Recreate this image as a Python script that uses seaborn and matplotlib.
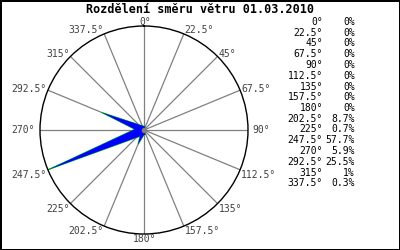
import numpy as np
import matplotlib
matplotlib.use("Agg")
import matplotlib.pyplot as plt
import seaborn as sns

sns.set_theme(style="white")
plt.rcParams['font.family'] = ['DejaVu Sans Mono', 'DejaVu Sans']

title = "Rozdělení směru větru 01.03.2010"
directions = [0, 22.5, 45, 67.5, 90, 112.5, 135, 157.5, 180,
              202.5, 225, 247.5, 270, 292.5, 315, 337.5]
percent = [0, 0, 0, 0, 0, 0, 0, 0, 0, 8.7, 0.7, 57.7, 5.9, 25.5, 1, 0.3]

W, H = 400, 250
fig = plt.figure(figsize=(4, 2.5), dpi=100, facecolor="white",
                 edgecolor="black", linewidth=2)

ax = fig.add_axes([40 / W, 16 / H, 208 / W, 208 / H], projection="polar")
ax.set_theta_zero_location("N")
ax.set_theta_direction(-1)
rmax = max(percent)
ax.set_ylim(0, rmax)
ax.grid(False)
ax.set_xticks([])
ax.set_yticks([])
ax.set_facecolor("white")
ax.spines["polar"].set_color("black")
ax.spines["polar"].set_linewidth(1.0)

# spokes
for d in directions:
    t = np.deg2rad(d)
    ax.plot([t, t], [0, rmax], color="#808080", lw=0.9, zorder=1)

# wind legs
px_per_unit = 104 / rmax
for d, v in zip(directions, percent):
    if v <= 0:
        continue
    t = np.deg2rad(d)
    half_px = 4.6 * (v / rmax) ** 0.3
    w = half_px / px_per_unit
    xs = [t, t + np.pi / 2, t - np.pi / 2]
    ys = [v, w, w]
    ax.fill(xs, ys, facecolor="none", edgecolor="#00cc00", lw=0.7, zorder=2)
    ax.fill(xs, ys, facecolor="#0000ff", edgecolor="none", zorder=3)

ax.plot([0], [0], marker="o", ms=3, color="#808080", zorder=4)

# direction labels
for d in directions:
    t = np.deg2rad(d)
    s, c = np.sin(t), np.cos(t)
    if s > 0.01:
        ha = "left"
        dx = 4 if abs(c) < 0.01 else 1
    elif s < -0.01:
        ha = "right"
        dx = -5 if abs(c) < 0.01 else -1
    else:
        ha = "center"
        dx = 1
    if c < -0.01:
        dy = -5
    else:
        dy = 4 * c
    ax.annotate(f"{d:g}°", xy=(t, rmax), xytext=(dx, dy),
                textcoords="offset pixels", ha=ha, va="center",
                fontsize=7, color="#404040", annotation_clip=False)

fig.text(0.5, 1 - 9.5 / H, title, ha="center", va="center",
         fontsize=8.5, fontweight="bold", color="black")

for i, (d, v) in enumerate(zip(directions, percent)):
    y = 1 - (22 + i * 10.75) / H
    fig.text(323 / W, y, f"{d:g}°", ha="right", va="center",
             fontsize=7, color="black")
    fig.text(355 / W, y, f"{v:g}%", ha="right", va="center",
             fontsize=7, color="black")

fig.savefig("out.png", dpi=100)
